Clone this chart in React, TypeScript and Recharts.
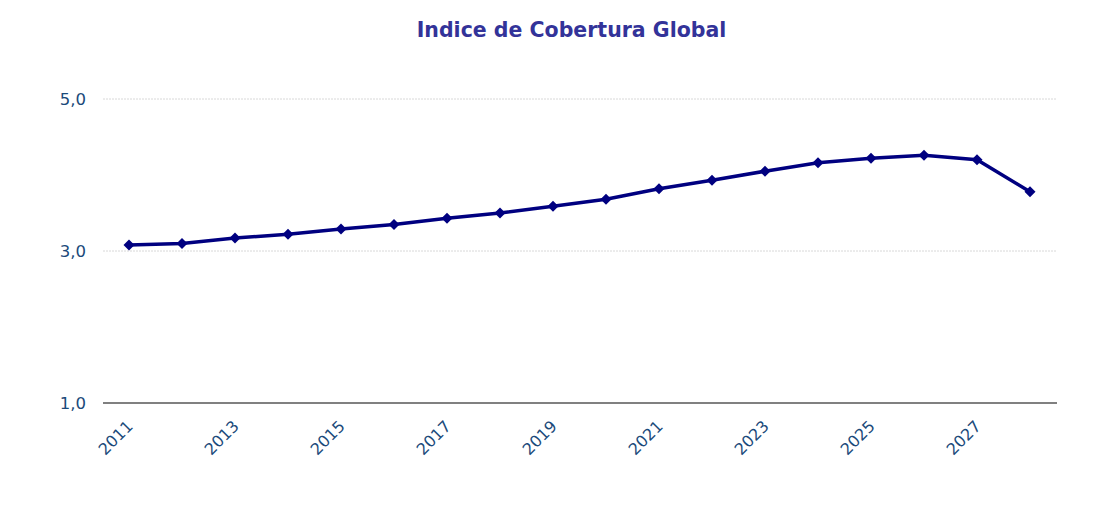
import { LineChart, Line, XAxis, YAxis, CartesianGrid } from 'recharts';

const YEARS = [
  '2011', '2012', '2013', '2014', '2015', '2016', '2017', '2018', '2019',
  '2020', '2021', '2022', '2023', '2024', '2025', '2026', '2027', '2028',
];
const COBERTURA = [
  3.08, 3.1, 3.17, 3.22, 3.29, 3.35, 3.43, 3.5, 3.59,
  3.68, 3.82, 3.93, 4.05, 4.16, 4.22, 4.26, 4.2, 3.78,
];
const Y_TICKS = [1, 3, 5];

const data = YEARS.map((year, i) => ({ year, value: COBERTURA[i] }));

const FONT = '"DejaVu Sans", Verdana, sans-serif';
const TICK_COLOR = '#1b4a7a';

function Diamond(props: any) {
  const { cx, cy } = props;
  if (cx == null || cy == null) return null;
  const r = 5.5;
  return (
    <path
      d={`M${cx},${cy - r} L${cx + r},${cy} L${cx},${cy + r} L${cx - r},${cy} Z`}
      fill="#000080"
    />
  );
}

function YearTick(props: any) {
  const { x, y, payload } = props;
  return (
    <g transform={`translate(${x},${y})`}>
      <text
        transform="rotate(-45)"
        x={-8}
        y={15}
        textAnchor="end"
        fill={TICK_COLOR}
        fontSize={16}
        fontFamily={FONT}
      >
        {payload.value}
      </text>
    </g>
  );
}

export default function App() {
  return (
    <div style={{ position: 'absolute', left: 0, top: 0, width: 1093, height: 516, background: '#fff' }}>
      <div
        style={{
          position: 'absolute',
          top: 18,
          left: 0,
          width: 1143,
          textAlign: 'center',
          fontFamily: FONT,
          fontWeight: 'bold',
          fontSize: 20.5,
          lineHeight: '25px',
          color: '#333399',
        }}
      >
        Indice de Cobertura Global
      </div>
      <LineChart
        width={1093}
        height={516}
        data={data}
        margin={{ top: 99, right: 36, bottom: 0, left: 0 }}
      >
        <CartesianGrid vertical={false} stroke="#d8d8d8" strokeDasharray="2 1" />
        <XAxis
          dataKey="year"
          interval={1}
          padding={{ left: 26, right: 27 }}
          tick={<YearTick />}
          tickLine={false}
          axisLine={{ stroke: '#808080', strokeWidth: 2 }}
          height={113}
        />
        <YAxis
          domain={[1, 5]}
          ticks={Y_TICKS}
          width={103}
          axisLine={false}
          tickLine={false}
          tickMargin={11}
          tickFormatter={(v: number) => v.toFixed(1).replace('.', ',')}
          tick={{ fill: TICK_COLOR, fontSize: 16.5, fontFamily: FONT }}
        />
        <Line
          type="linear"
          dataKey="value"
          stroke="#000080"
          strokeWidth={3.5}
          dot={<Diamond />}
          activeDot={false}
          isAnimationActive={false}
        />
      </LineChart>
    </div>
  );
}
